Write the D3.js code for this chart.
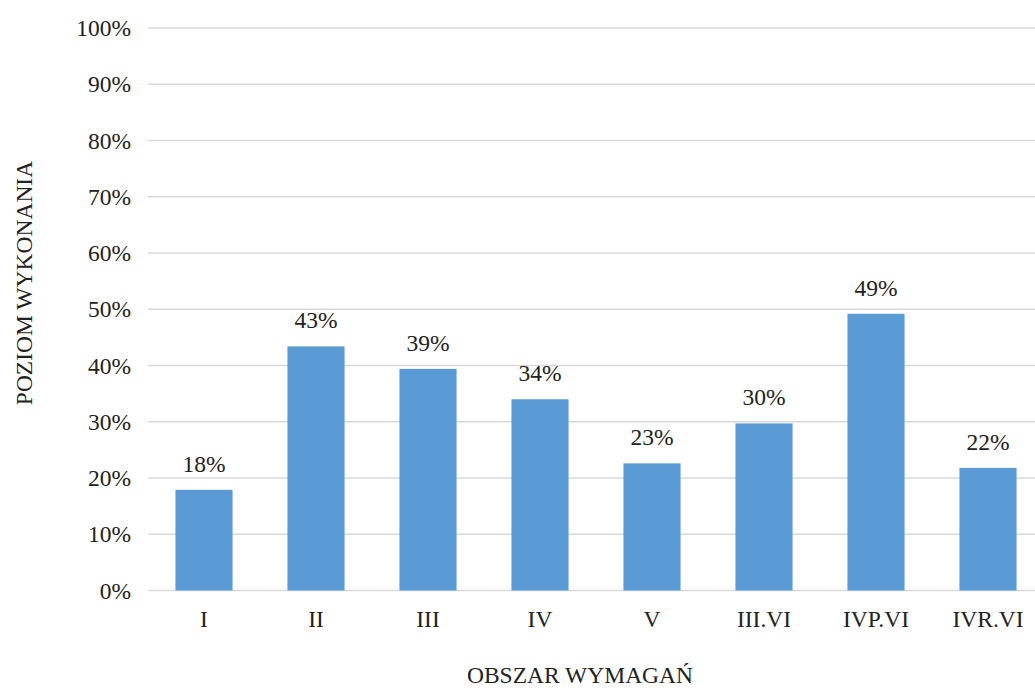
<!DOCTYPE html>
<html>
<head>
<meta charset="utf-8">
<script src="https://cdn.jsdelivr.net/npm/d3@7"></script>
<style>
  body { margin: 0; background: #fff; }
  text { font-family: "Liberation Serif", "Times New Roman", serif; fill: #222; }
</style>
</head>
<body>
<svg id="chart" width="1035" height="688"></svg>
<script>
// dane z wykresu
var categories = ["I", "II", "III", "IV", "V", "III.VI", "IVP.VI", "IVR.VI"];
var values = [17.9, 43.4, 39.4, 34.0, 22.6, 29.7, 49.2, 21.8];
var labels = ["18%", "43%", "39%", "34%", "23%", "30%", "49%", "22%"];
var yTicks = [0, 10, 20, 30, 40, 50, 60, 70, 80, 90, 100];

var svg = d3.select("#chart"),
    left = 148,
    step = 112,
    plotTop = 28,
    plotBottom = 590.5,
    fs = 23.5;

var x = d3.scaleBand()
    .domain(categories)
    .range([left, left + step * categories.length])
    .paddingInner(0.49)
    .paddingOuter(0.245);

var y = d3.scaleLinear().domain([0, 100]).range([plotBottom, plotTop]);

// linie siatki
svg.append("g").selectAll("line")
  .data(yTicks)
  .enter().append("line")
    .attr("x1", left)
    .attr("x2", x.range()[1])
    .attr("y1", function(d) { return y(d) })
    .attr("y2", function(d) { return y(d) })
    .attr("stroke", "#d9d9d9")
    .attr("stroke-width", 1.5);

// etykiety osi Y
svg.append("g").selectAll("text")
  .data(yTicks)
  .enter().append("text")
    .attr("x", 131)
    .attr("y", function(d) { return y(d) })
    .attr("dy", "0.35em")
    .attr("text-anchor", "end")
    .style("font-size", fs + "px")
    .text(function(d) { return d + "%" });

// słupki
svg.append("g").selectAll("rect")
  .data(values)
  .enter().append("rect")
    .attr("x", function(d, i) { return x(categories[i]) })
    .attr("width", x.bandwidth())
    .attr("y", function(d) { return y(d) })
    .attr("height", function(d) { return y(0) - y(d) })
    .attr("fill", "#5b9bd5");

// etykiety wartości
svg.append("g").selectAll("text")
  .data(values)
  .enter().append("text")
    .attr("x", function(d, i) { return x(categories[i]) + x.bandwidth() / 2 })
    .attr("y", function(d) { return y(d) - 18 })
    .attr("text-anchor", "middle")
    .style("font-size", fs + "px")
    .text(function(d, i) { return labels[i] });

// etykiety kategorii
svg.append("g").selectAll("text")
  .data(categories)
  .enter().append("text")
    .attr("x", function(d) { return x(d) + x.bandwidth() / 2 })
    .attr("y", 627)
    .attr("text-anchor", "middle")
    .style("font-size", fs + "px")
    .text(function(d) { return d });

// tytuły osi
svg.append("text")
  .attr("x", 580)
  .attr("y", 683)
  .attr("text-anchor", "middle")
  .style("font-size", fs + "px")
  .text("OBSZAR WYMAGAŃ");

svg.append("text")
  .attr("transform", "translate(32,283) rotate(-90)")
  .attr("text-anchor", "middle")
  .style("font-size", fs + "px")
  .text("POZIOM WYKONANIA");
</script>
</body>
</html>
